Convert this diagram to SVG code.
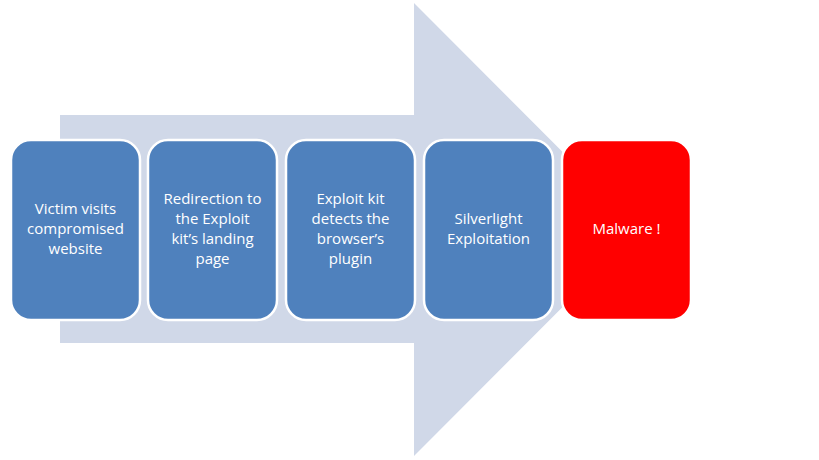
<svg xmlns="http://www.w3.org/2000/svg" width="819" height="460" viewBox="0 0 819 460">
<style>
.box{fill:#4F81BD;stroke:#FFFFFF;stroke-width:2.5}
.red{fill:#FF0000;stroke:#FFFFFF;stroke-width:2.5}
text{font-family:"Open Sans","Liberation Sans",sans-serif;font-size:15px;fill:#FFFFFF;text-anchor:middle}
</style>
<rect width="819" height="460" fill="#FFFFFF"/>
<g id="arrow">
<polygon points="60,115 414,115 414,3 640,229.5 414,456 414,343 60,343" fill="#D0D8E8"/>
</g>
<g id="connectors"></g>
<g id="n1">
<rect class="box" x="11" y="140" width="129" height="180" rx="20"/>
<text x="75.5" y="214">Victim visits</text>
<text x="75.5" y="234">compromised</text>
<text x="75.5" y="254">website</text>
</g>
<g id="n2">
<rect class="box" x="148" y="140" width="129" height="180" rx="20"/>
<text x="212.5" y="204">Redirection to</text>
<text x="212.5" y="224">the Exploit</text>
<text x="212.5" y="244">kit’s landing</text>
<text x="212.5" y="264">page</text>
</g>
<g id="n3">
<rect class="box" x="286" y="140" width="129" height="180" rx="20"/>
<text x="350.5" y="204">Exploit kit</text>
<text x="350.5" y="224">detects the</text>
<text x="350.5" y="244">browser’s</text>
<text x="350.5" y="264">plugin</text>
</g>
<g id="n4">
<rect class="box" x="424" y="140" width="129" height="180" rx="20"/>
<text x="488.5" y="224">Silverlight</text>
<text x="488.5" y="244">Exploitation</text>
</g>
<g id="n5">
<rect class="red" x="562" y="140" width="129" height="180" rx="20"/>
<text x="626.5" y="234">Malware !</text>
</g>
</svg>
